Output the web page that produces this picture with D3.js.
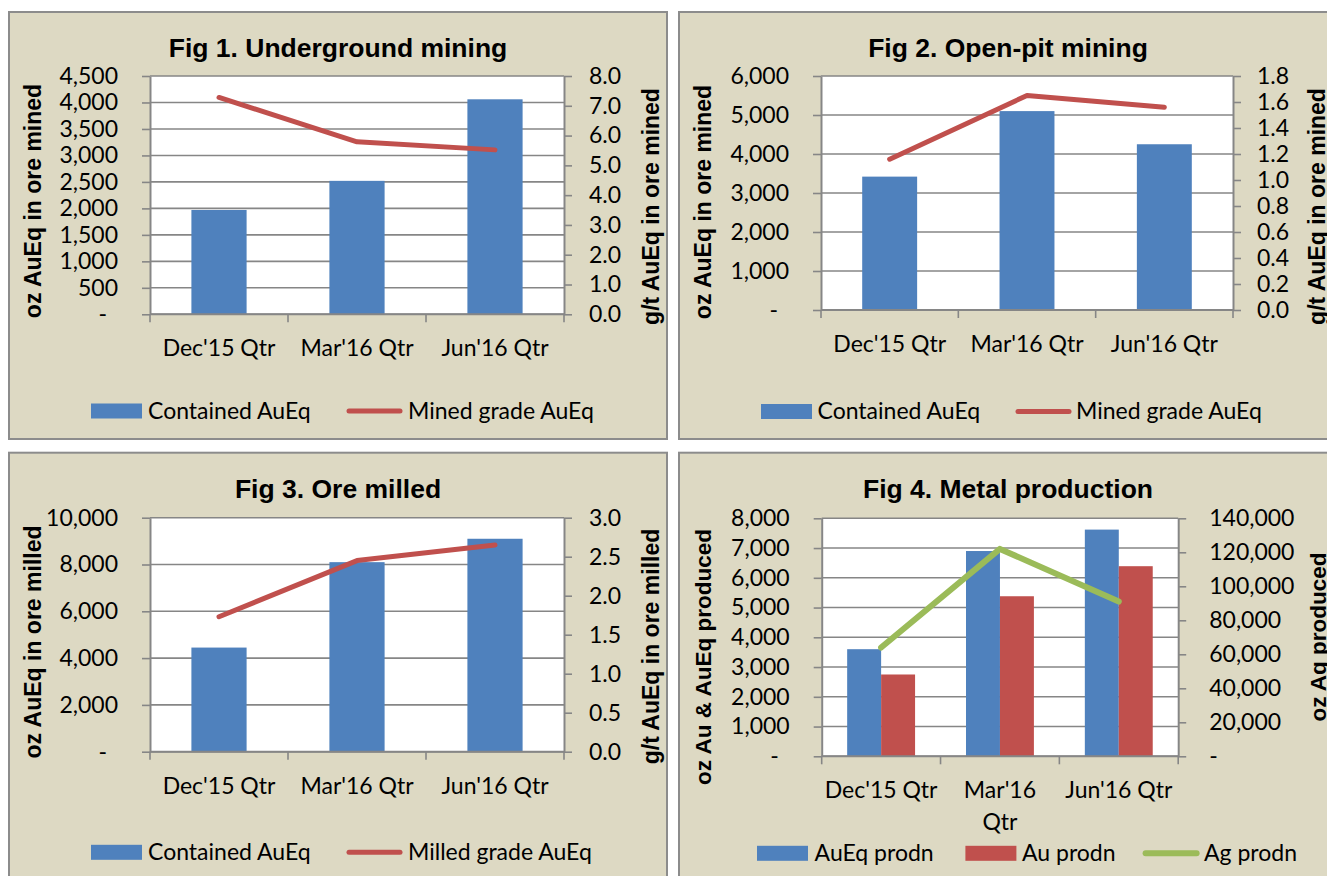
<!DOCTYPE html>
<html>
<head>
<meta charset="utf-8">
<script src="https://cdn.jsdelivr.net/npm/d3@7"></script>
<style>
  html, body { margin: 0; padding: 0; background: #ffffff; }
  svg { display: block; }
</style>
</head>
<body>
<svg id="chart" width="1327" height="876"></svg>
<script>
// ---- data ---------------------------------------------------------------
const quarters = ["Dec'15 Qtr", "Mar'16 Qtr", "Jun'16 Qtr"];
// the narrower production chart breaks the middle label onto two lines
const prodQuarterLabels = [["Dec'15 Qtr"], ["Mar'16", "Qtr"], ["Jun'16 Qtr"]];

// Fig 1. Underground mining
const ugContained = [1970, 2520, 4060];          // oz AuEq in ore mined
const ugGrade = [7.28, 5.79, 5.52];              // g/t AuEq
const ugLeftTicks = [0, 500, 1000, 1500, 2000, 2500, 3000, 3500, 4000, 4500];
const ugRightTicks = [0, 1, 2, 3, 4, 5, 6, 7, 8];

// Fig 2. Open-pit mining
const opContained = [3420, 5100, 4250];
const opGrade = [1.16, 1.65, 1.56];
const opLeftTicks = [0, 1000, 2000, 3000, 4000, 5000, 6000];
const opRightTicks = [0, 0.2, 0.4, 0.6, 0.8, 1.0, 1.2, 1.4, 1.6, 1.8];

// Fig 3. Ore milled
const millContained = [4450, 8100, 9100];
const millGrade = [1.73, 2.45, 2.65];
const millLeftTicks = [0, 2000, 4000, 6000, 8000, 10000];
const millRightTicks = [0, 0.5, 1.0, 1.5, 2.0, 2.5, 3.0];

// Fig 4. Metal production
const auEqProd = [3600, 6900, 7620];
const auProd = [2750, 5380, 6390];
const agProd = [64000, 122000, 91000];
const prodLeftTicks = [0, 1000, 2000, 3000, 4000, 5000, 6000, 7000, 8000];
const prodRightTicks = [0, 20000, 40000, 60000, 80000, 100000, 120000, 140000];

// ---- styles -------------------------------------------------------------
const BLUE = "#4F81BD", RED = "#C0504D", GREEN = "#9BBB59";
const PANEL_BG = "#DDD9C3", PANEL_EDGE = "#8C8C8C", GRID = "#868686";
const TICK_FONT = "Lato, 'Open Sans', sans-serif";
const BOLD_FONT = "'Liberation Sans', Arial, sans-serif";

const svg = d3.select("#chart");

const fmtThousands = v => v === 0 ? "-" : d3.format(",.0f")(v);
const fmtOneDec = d3.format(".1f");

function drawPanel(cfg) {
  const g = svg.append("g");
  const b = cfg.box;

  // panel background + frame
  g.append("rect")
    .attr("x", b.x).attr("y", b.y).attr("width", b.w).attr("height", b.h)
    .attr("fill", PANEL_BG).attr("stroke", PANEL_EDGE).attr("stroke-width", 2);

  const p = cfg.plot;
  const x = d3.scaleBand().domain(quarters).range([p.x0, p.x1]).padding(0);
  const yL = d3.scaleLinear().domain([0, d3.max(cfg.leftTicks)]).range([p.y1, p.y0]);
  const yR = d3.scaleLinear().domain([0, d3.max(cfg.rightTicks)]).range([p.y1, p.y0]);
  const bw = x.bandwidth();

  // plot area
  g.append("rect")
    .attr("x", p.x0).attr("y", p.y0)
    .attr("width", p.x1 - p.x0).attr("height", p.y1 - p.y0)
    .attr("fill", "#ffffff");

  // horizontal gridlines at left-axis ticks
  g.append("g").selectAll("line").data(cfg.leftTicks).join("line")
    .attr("x1", p.x0).attr("x2", p.x1)
    .attr("y1", d => yL(d)).attr("y2", d => yL(d))
    .attr("stroke", GRID).attr("stroke-width", 1.6);

  // clustered bars (gap between clusters = 150% of a bar)
  const n = cfg.bars.length;
  const barW = bw / (n + 1.5);
  cfg.bars.forEach((s, i) => {
    g.append("g").selectAll("rect").data(quarters).join("rect")
      .attr("x", c => x(c) + (bw - n * barW) / 2 + i * barW)
      .attr("width", barW)
      .attr("y", (c, k) => yL(s.values[k]))
      .attr("height", (c, k) => p.y1 - yL(s.values[k]))
      .attr("fill", s.color);
  });

  // left value axis
  const axL = g.append("g")
    .attr("transform", `translate(${p.x0},0)`)
    .call(d3.axisLeft(yL).tickValues(cfg.leftTicks).tickFormat(fmtThousands)
      .tickSize(8).tickSizeOuter(0).tickPadding(24));
  // right value axis
  const axR = g.append("g")
    .attr("transform", `translate(${p.x1},0)`)
    .call(d3.axisRight(yR).tickValues(cfg.rightTicks).tickFormat(cfg.rightFormat)
      .tickSize(8).tickSizeOuter(0).tickPadding(cfg.rightPad));

  [axL, axR].forEach(ax => {
    ax.select(".domain").attr("stroke", GRID).attr("stroke-width", 2);
    ax.selectAll(".tick line").attr("stroke", GRID).attr("stroke-width", 1.6);
    ax.selectAll(".tick text")
      .attr("fill", "#000").attr("font-family", TICK_FONT).attr("font-size", 23);
  });
  // zero shown as a dash, set in from the digits
  axL.selectAll(".tick text").filter(d => d === 0).attr("x", -43);

  // category axis: baseline and tick marks on band edges
  g.append("line")
    .attr("x1", p.x0).attr("x2", p.x1).attr("y1", p.y1).attr("y2", p.y1)
    .attr("stroke", GRID).attr("stroke-width", 2);
  const edges = quarters.map(c => x(c)).concat([p.x1]);
  g.append("g").selectAll("line").data(edges).join("line")
    .attr("x1", d => d).attr("x2", d => d)
    .attr("y1", p.y1).attr("y2", p.y1 + 8)
    .attr("stroke", GRID).attr("stroke-width", 1.6);

  // category labels, one tspan per line
  const labelLines = cfg.catLabels || quarters.map(q => [q]);
  const cat = g.append("g").selectAll("text").data(quarters).join("text")
    .attr("x", c => x(c) + bw / 2).attr("y", p.y1 + 42)
    .attr("text-anchor", "middle")
    .attr("font-family", TICK_FONT).attr("font-size", 23).attr("fill", "#000");
  cat.each(function (c, k) {
    const t = d3.select(this);
    labelLines[k].forEach((line, j) => {
      t.append("tspan").attr("x", x(c) + bw / 2).attr("dy", j === 0 ? 0 : 32).text(line);
    });
  });

  // lines on the secondary axis
  cfg.lines.forEach(s => {
    g.append("path")
      .datum(quarters)
      .attr("d", d3.line().x(c => x(c) + bw / 2).y((c, k) => yR(s.values[k])))
      .attr("fill", "none").attr("stroke", s.color).attr("stroke-width", s.width)
      .attr("stroke-linecap", "round").attr("stroke-linejoin", "round");
  });

  // chart title
  g.append("text")
    .attr("x", b.x + b.w / 2).attr("y", b.y + 45)
    .attr("text-anchor", "middle")
    .attr("font-family", BOLD_FONT).attr("font-weight", "bold").attr("font-size", 26.5)
    .attr("fill", "#000").text(cfg.title);

  // axis titles
  [[cfg.leftTitle, cfg.leftTitlePos], [cfg.rightTitle, cfg.rightTitlePos]].forEach(([txt, pos]) => {
    g.append("text")
      .attr("transform", `translate(${pos[0]},${pos[1]}) rotate(-90)`)
      .attr("text-anchor", "middle").attr("dy", "0.35em")
      .attr("font-family", BOLD_FONT).attr("font-weight", "bold").attr("font-size", cfg.axisTitleSize)
      .attr("fill", "#000").text(txt);
  });

  // legend
  const ly = cfg.legendY;
  cfg.legend.forEach(item => {
    if (item.kind === "rect") {
      g.append("rect")
        .attr("x", b.x + item.at).attr("y", ly - 7.5).attr("width", 51).attr("height", 15)
        .attr("fill", item.color);
    } else {
      g.append("line")
        .attr("x1", b.x + item.at + 2).attr("x2", b.x + item.at + 53)
        .attr("y1", ly).attr("y2", ly)
        .attr("stroke", item.color).attr("stroke-width", item.width)
        .attr("stroke-linecap", "round");
    }
    g.append("text")
      .attr("x", b.x + item.textAt).attr("y", ly + 7.8)
      .attr("font-family", TICK_FONT).attr("font-size", 23).attr("fill", "#000")
      .text(item.label);
  });
}

drawPanel({
  box: { x: 9, y: 12, w: 658, h: 427 },
  plot: { x0: 150, x1: 564, y0: 76, y1: 314.3 },
  title: "Fig 1. Underground mining",
  leftTicks: ugLeftTicks, rightTicks: ugRightTicks, rightFormat: fmtOneDec, rightPad: 17,
  bars: [{ values: ugContained, color: BLUE }],
  lines: [{ values: ugGrade, color: RED, width: 5 }],
  leftTitle: "oz AuEq in ore mined", leftTitlePos: [32.5, 201],
  rightTitle: "g/t AuEq in ore mined", rightTitlePos: [651, 206.5],
  axisTitleSize: 23,
  legendY: 411,
  legend: [
    { kind: "rect", color: BLUE, at: 82, textAt: 139, label: "Contained AuEq" },
    { kind: "line", color: RED, width: 5, at: 338, textAt: 399, label: "Mined grade AuEq" }
  ]
});

drawPanel({
  box: { x: 679, y: 12, w: 658, h: 427 },
  plot: { x0: 821, x1: 1233, y0: 76, y1: 310 },
  title: "Fig 2. Open-pit mining",
  leftTicks: opLeftTicks, rightTicks: opRightTicks, rightFormat: fmtOneDec, rightPad: 16,
  bars: [{ values: opContained, color: BLUE }],
  lines: [{ values: opGrade, color: RED, width: 5 }],
  leftTitle: "oz AuEq in ore mined", leftTitlePos: [703, 202],
  rightTitle: "g/t AuEq in ore mined", rightTitlePos: [1317, 206.5],
  axisTitleSize: 23,
  legendY: 411.5,
  legend: [
    { kind: "rect", color: BLUE, at: 82, textAt: 138.5, label: "Contained AuEq" },
    { kind: "line", color: RED, width: 5, at: 337, textAt: 397, label: "Mined grade AuEq" }
  ]
});

drawPanel({
  box: { x: 9, y: 452.7, w: 658, h: 440 },
  plot: { x0: 150, x1: 564, y0: 517.7, y1: 751.7 },
  title: "Fig 3. Ore milled",
  leftTicks: millLeftTicks, rightTicks: millRightTicks, rightFormat: fmtOneDec, rightPad: 17,
  bars: [{ values: millContained, color: BLUE }],
  lines: [{ values: millGrade, color: RED, width: 5 }],
  leftTitle: "oz AuEq in ore milled", leftTitlePos: [32.5, 642],
  rightTitle: "g/t AuEq in ore milled", rightTitlePos: [651, 646.5],
  axisTitleSize: 23,
  legendY: 852.3,
  legend: [
    { kind: "rect", color: BLUE, at: 82, textAt: 139, label: "Contained AuEq" },
    { kind: "line", color: RED, width: 5, at: 338, textAt: 399, label: "Milled grade AuEq" }
  ]
});

drawPanel({
  box: { x: 679, y: 452.7, w: 658, h: 440 },
  plot: { x0: 821.7, x1: 1178.2, y0: 518.3, y1: 756.3 },
  title: "Fig 4. Metal production",
  leftTicks: prodLeftTicks, rightTicks: prodRightTicks, rightFormat: fmtThousands, rightPad: 23,
  bars: [{ values: auEqProd, color: BLUE }, { values: auProd, color: RED }],
  lines: [{ values: agProd, color: GREEN, width: 6 }],
  catLabels: prodQuarterLabels,
  leftTitle: "oz Au & AuEq produced", leftTitlePos: [703, 657],
  rightTitle: "oz Ag produced", rightTitlePos: [1318, 637],
  axisTitleSize: 22.5,
  legendY: 853.3,
  legend: [
    { kind: "rect", color: BLUE, at: 78, textAt: 135.6, label: "AuEq prodn" },
    { kind: "rect", color: RED, at: 286.4, textAt: 343, label: "Au prodn" },
    { kind: "line", color: GREEN, width: 6, at: 464.6, textAt: 525, label: "Ag prodn" }
  ]
});
</script>
</body>
</html>
